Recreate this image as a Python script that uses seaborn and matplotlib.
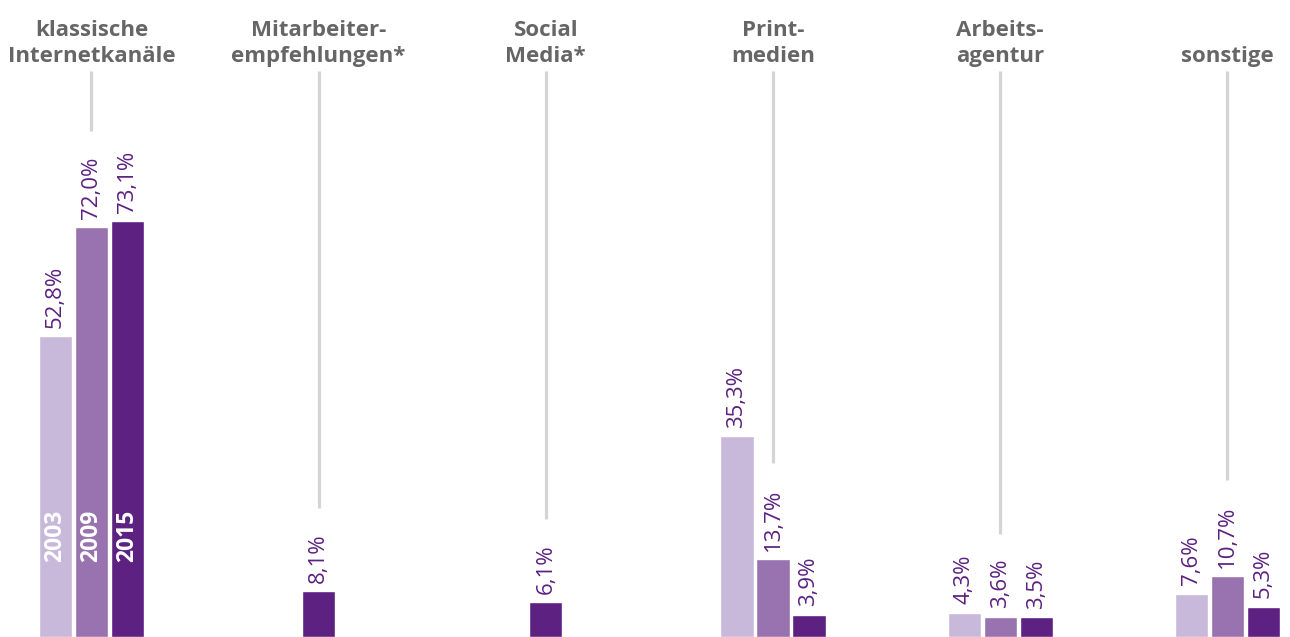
import matplotlib
matplotlib.use("Agg")
import matplotlib.pyplot as plt
import seaborn as sns
import pandas as pd

categories = ["klassische\nInternetkanäle", "Mitarbeiter-\nempfehlungen*", "Social\nMedia*",
              "Print-\nmedien", "Arbeits-\nagentur", "sonstige"]
years = ["2003", "2009", "2015"]
v2003 = [52.8, None, None, 35.3, 4.3, 7.6]
v2009 = [72.0, None, None, 13.7, 3.6, 10.7]
v2015 = [73.1, 8.1, 6.1, 3.9, 3.5, 5.3]
colors = ["#c8b9db", "#9873af", "#5c2181"]

sns.set_style("white")
plt.rcParams["font.family"] = ["Open Sans", "DejaVu Sans"]

GROUP_STEP = 6.31
rows = []
series = [v2003, v2009, v2015]
for g, cat in enumerate(categories):
    present = [(years[i], series[i][g]) for i in range(3) if series[i][g] is not None]
    if len(present) == 1:
        slots = [0]
    else:
        slots = [-1, 0, 1]
    for (yr, val), s in zip(present, slots):
        rows.append({"group": g, "year": yr, "value": val, "x": g * GROUP_STEP + s, "slot": s})
df = pd.DataFrame(rows)

fig = plt.figure(figsize=(12.9, 6.37), dpi=100)
ax = fig.add_axes([0, 0, 1, 1])
PX_PER_UNIT = 637 / 111.9

sns.barplot(data=df, x="x", y="value", hue="year", hue_order=years,
            palette=colors, native_scale=True, dodge=False, width=0.92,
            saturation=1, errorbar=None, legend=False, ax=ax)
ax.set_xlim(-2.54, 33.29)
ax.set_ylim(0, 111.9)
ax.axis("off")

label_color = "#5c2181"
val_texts = {}
for _, r in df.iterrows():
    s = f"{r['value']:.1f}".replace(".", ",") + "%"
    t = ax.annotate(s, (r["x"], r["value"]), xytext=(0, 6), textcoords="offset points",
                    rotation=90, ha="center", va="bottom", fontsize=16, color=label_color)
    val_texts[(r["group"], r["slot"])] = t

# year labels inside first group
for _, r in df[df["group"] == 0].iterrows():
    ax.text(r["x"], 75 / PX_PER_UNIT, r["year"], rotation=90, ha="center", va="bottom",
            fontsize=16.5, fontweight="bold", color="white")

# category labels
for g, cat in enumerate(categories):
    ax.text(g * GROUP_STEP, (637 - 67) / PX_PER_UNIT, cat, ha="center", va="bottom",
            fontsize=16, fontweight="bold", color="#666666", linespacing=1.3)

fig.canvas.draw()
renderer = fig.canvas.get_renderer()
inv = ax.transData.inverted()
for g in range(len(categories)):
    t = val_texts[(g, 0)]
    bb = t.get_window_extent(renderer)
    top_px = bb.y1 + 25
    y_end = inv.transform((0, top_px))[1]
    y_top = (637 - 71) / PX_PER_UNIT
    ax.plot([g * GROUP_STEP, g * GROUP_STEP], [y_end, y_top], color="#d4d4d4", lw=2.3,
            solid_capstyle="butt")

fig.savefig("out.png", dpi=100)
